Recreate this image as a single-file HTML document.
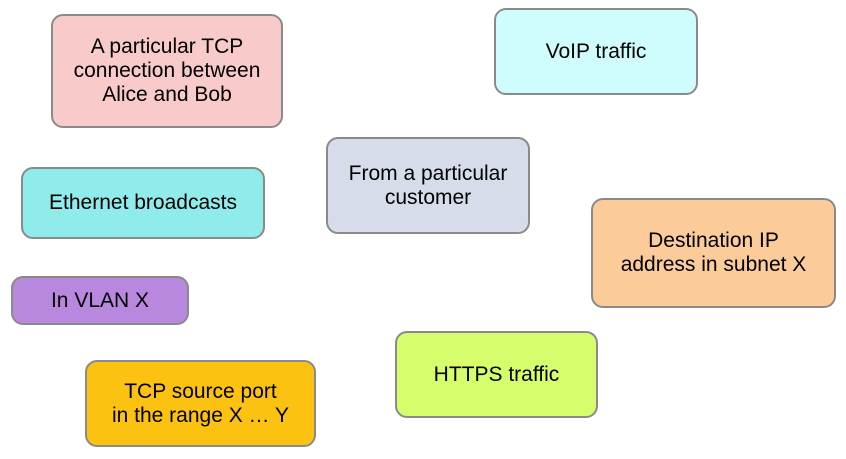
<!DOCTYPE html>
<html><head><style>
body{margin:0;width:846px;height:459px;background:#fff;position:relative;overflow:hidden;font-family:"Liberation Sans",sans-serif;}
.b{position:absolute;box-sizing:border-box;border:2px solid #8a8a8a;border-radius:12px;display:flex;align-items:center;justify-content:center;text-align:center;font-size:21px;line-height:24px;color:#000;}
</style></head><body>
<div class="b" style="left:51px;top:14px;width:232px;height:114px;background:#f9caca;">A particular TCP<br>connection between<br>Alice and Bob</div>
<div class="b" style="left:494px;top:8px;width:204px;height:87px;background:#cffdfd;">VoIP traffic</div>
<div class="b" style="left:326px;top:137px;width:204px;height:97px;background:#d6dcea;">From a particular<br>customer</div>
<div class="b" style="left:21px;top:167px;width:244px;height:72px;background:#90ebeb;">Ethernet broadcasts</div>
<div class="b" style="left:591px;top:198px;width:245px;height:110px;background:#fbcb9a;">Destination IP<br>address in subnet X</div>
<div class="b" style="left:11px;top:276px;width:178px;height:49px;background:#b788dd;">In VLAN X</div>
<div class="b" style="left:395px;top:331px;width:203px;height:87px;background:#d5fd6c;">HTTPS traffic</div>
<div class="b" style="left:85px;top:360px;width:231px;height:87px;background:#fcc212;">TCP source port<br>in the range X … Y</div>
</body></html>
